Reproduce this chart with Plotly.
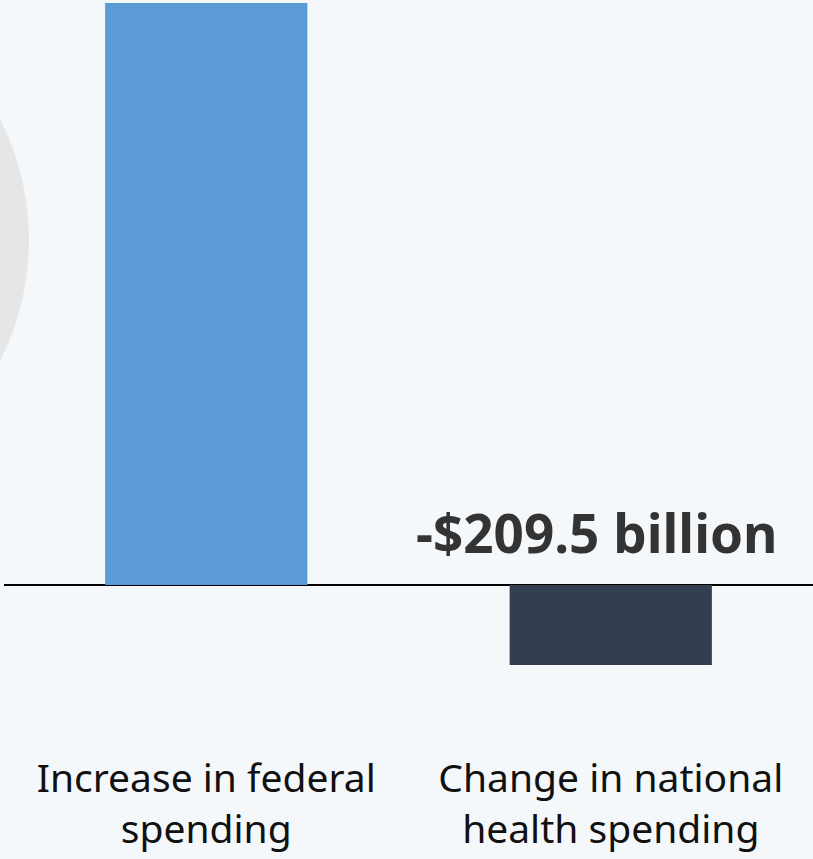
import plotly.graph_objects as go

# Categories and values (billions of dollars)
categories = ["Increase in federal<br>spending", "Change in national<br>health spending"]
values = [1524.0, -209.5]
bar_colors = ["#5b9bd5", "#333f50"]

W, H = 813, 859
BG = "#f5f8fb"

fig = go.Figure()
fig.add_trace(go.Bar(
    x=categories,
    y=values,
    marker=dict(color=bar_colors, line=dict(width=0)),
    width=0.5,
    hoverinfo="skip",
))

# value label above the negative bar
fig.add_annotation(
    x=categories[1], y=0, xref="x", yref="y",
    text="<b>-${:.1f} billion</b>".format(abs(values[1])),
    showarrow=False, yanchor="bottom", yshift=14, xshift=-14,
    font=dict(family="Noto Sans", size=53, color="#333333"),
)

# decorative grey circle on the left edge (pixel coords converted to paper)
cx, cy, r = -238, 240, 267
fig.add_shape(
    type="circle", xref="paper", yref="paper", layer="below",
    x0=(cx - r) / W, x1=(cx + r) / W,
    y0=1 - (cy + r) / H, y1=1 - (cy - r) / H,
    fillcolor="#e6e6e6", line=dict(width=0),
)

# plot domain: pixel 0..700 vertically, 4..813 horizontally
top_px, bot_px, zero_px, per_px = 0, 700, 585, 209.5 / 80
y_max = (zero_px - top_px) * per_px
y_min = -(bot_px - zero_px) * per_px

fig.update_layout(
    width=W, height=H,
    margin=dict(l=0, r=0, t=0, b=0),
    paper_bgcolor=BG, plot_bgcolor="rgba(0,0,0,0)",
    showlegend=False,
    bargap=0.5,
    xaxis=dict(
        domain=[4 / W, 1],
        showgrid=False, showline=False, zeroline=False,
        ticks="", ticklabelstandoff=52,
        tickfont=dict(family="Noto Sans", size=39, color="#111111"),
    ),
    yaxis=dict(
        domain=[1 - bot_px / H, 1 - top_px / H],
        range=[y_min, y_max],
        showgrid=False, showticklabels=False, ticks="",
        zeroline=True, zerolinecolor="#000000", zerolinewidth=2,
    ),
)

fig.write_html("out.html")
